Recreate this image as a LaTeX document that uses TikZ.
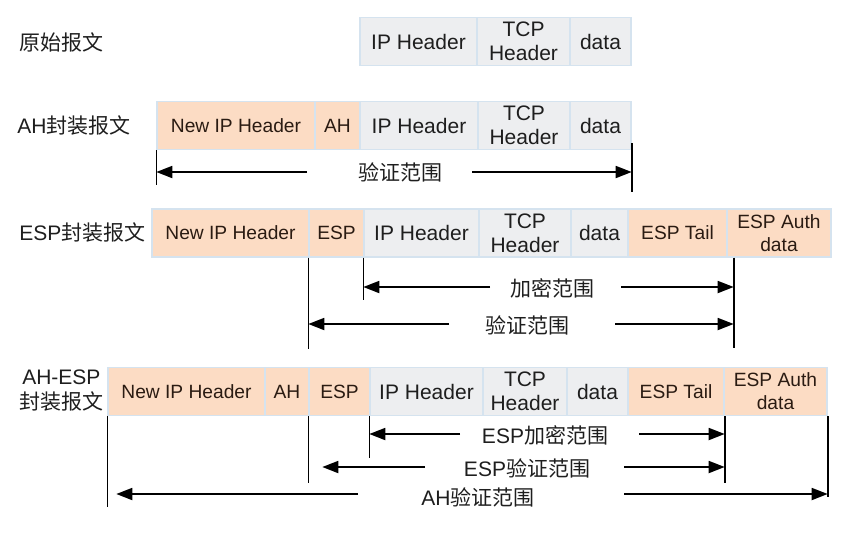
\documentclass[tikz,border=0pt]{standalone}
\usepackage{fontspec}
\setmainfont{Liberation Sans}
\newfontfamily\cjk{Noto Sans CJK SC}
\usetikzlibrary{arrows.meta,positioning}
\definecolor{hdrgrey}{HTML}{EDEEF0}
\definecolor{hdrorange}{HTML}{FCDCC4}
\definecolor{cellline}{HTML}{D5E3EF}
\definecolor{txtdark}{HTML}{1E1E1E}
\definecolor{txtbrown}{HTML}{2A1B12}
\tikzset{
  cell/.style={draw=cellline, line width=0.7pt, fill=hdrgrey, align=center,
    inner sep=0pt, minimum height=24pt, text=txtdark,
    font=\fontsize{10.5}{12}\selectfont},
  newcell/.style={cell, fill=hdrorange, text=txtbrown,
    font=\fontsize{9.6}{11.5}\selectfont},
  rowlabel/.style={anchor=west, inner sep=0pt, text=txtdark,
    font=\fontsize{10.5}{12.5}\selectfont},
  rangelabel/.style={inner sep=0pt, text=txtdark, font=\fontsize{10.5}{12}\selectfont},
  arr/.style={-{Triangle[length=8pt,width=6pt]}, line width=0.9pt},
  bound/.style={line width=0.8pt}
}
\begin{document}
\begin{tikzpicture}[x=0.5pt,y=-0.5pt]
  \useasboundingbox (0,0) rectangle (846,538);
  % row labels
  \node[rowlabel] (lo) at (19,42) {\cjk 原始报文};
  \node[rowlabel] (la) at (17,125) {AH{\cjk 封装报文}};
  \node[rowlabel] (le) at (19,232) {ESP{\cjk 封装报文}};
  \node[rowlabel, align=center] (lh) at (19,391) {AH-ESP\\{\cjk 封装报文}};
  % packet cells
  \foreach \n/\a/\b/\sty/\txt in {
    o1/360/477/cell/IP Header, o2/477/570/cell/TCP\\Header, o3/570/631/cell/data} {
    \node[\sty, minimum width={(\b-\a)*0.5pt}] (\n) at ({(\a+\b)/2},41.5) {\txt};
  }
  \foreach \n/\a/\b/\sty/\txt in {
    a1/157/315/newcell/New IP Header, a2/315/360/newcell/AH,
    a3/360/478/cell/IP Header, a4/478/570/cell/TCP\\Header, a5/570/631/cell/data} {
    \node[\sty, minimum width={(\b-\a)*0.5pt}] (\n) at ({(\a+\b)/2},125.5) {\txt};
  }
  \foreach \n/\a/\b/\sty/\txt in {
    e1/152/309/newcell/New IP Header, e2/309/364/newcell/ESP,
    e3/364/479/cell/IP Header, e4/479/571/cell/TCP\\Header, e5/571/628/cell/data,
    e6/628/727/newcell/ESP Tail, e7/727/831/newcell/ESP Auth\\data} {
    \node[\sty, minimum width={(\b-\a)*0.5pt}] (\n) at ({(\a+\b)/2},233) {\txt};
  }
  \foreach \n/\a/\b/\sty/\txt in {
    h1/108/265/newcell/New IP Header, h2/265/309/newcell/AH, h3/309/370/newcell/ESP,
    h4/370/483/cell/IP Header, h5/483/567/cell/TCP\\Header, h6/567/628/cell/data,
    h7/628/724/newcell/ESP Tail, h8/724/827/newcell/ESP Auth\\data} {
    \node[\sty, minimum width={(\b-\a)*0.5pt}] (\n) at ({(\a+\b)/2},391.5) {\txt};
  }
  % AH ranges
  \draw[bound] (a1.south west) -- ++(0,35);
  \draw[bound] ([yshift=3.5pt]a5.south east) -- ++(0,49);
  \node[rangelabel] (av) at (400,172) {\cjk 验证范围};
  \coordinate (avl) at (307,172);
  \coordinate (avr) at (472,172);
  \draw[arr] (avl) -- (avl -| a1.south west);
  \draw[arr] (avr) -- (avr -| a5.south east);
  % ESP ranges
  \coordinate (etick) at ([xshift=3pt]e6.south east);
  \draw[bound] (e3.south west) -- ++(0,42);
  \draw[bound] (e2.south west) -- ++(0,91);
  \draw[bound] (etick) -- ++(0,90);
  \node[rangelabel] (ee) at (552,288) {\cjk 加密范围};
  \coordinate (eel) at (490,287);
  \coordinate (eer) at (621,287);
  \draw[arr] (eel) -- (eel -| e3.south west);
  \draw[arr] (eer) -- (eer -| etick);
  \node[rangelabel] (ev) at (527,325) {\cjk 验证范围};
  \coordinate (evl) at (449,324);
  \coordinate (evr) at (615,324);
  \draw[arr] (evl) -- (evl -| e2.south west);
  \draw[arr] (evr) -- (evr -| etick);
  % AH-ESP ranges
  \draw[bound] (h4.south west) -- ++(0,42);
  \draw[bound] (h3.south west) -- ++(0,67);
  \draw[bound] (h7.south east) -- ++(0,67);
  \draw[bound] (h1.south west) -- ++(0,91);
  \draw[bound] (h8.south east) -- ++(0,81);
  \node[rangelabel] (he) at (545,435) {ESP{\cjk 加密范围}};
  \coordinate (hel) at (460,434);
  \coordinate (her) at (639,434);
  \draw[arr] (hel) -- (hel -| h4.south west);
  \draw[arr] (her) -- (her -| h7.south east);
  \node[rangelabel] (hv) at (527,468) {ESP{\cjk 验证范围}};
  \coordinate (hvl) at (425,467);
  \coordinate (hvr) at (624,467);
  \draw[arr, shorten >=7pt] (hvl) -- (hvl -| h3.south west);
  \draw[arr] (hvr) -- (hvr -| h7.south east);
  \node[rangelabel] (ha) at (478,497) {AH{\cjk 验证范围}};
  \coordinate (hal) at (358,494);
  \coordinate (har) at (624,494);
  \draw[arr, shorten >=4.5pt] (hal) -- (hal -| h1.south west);
  \draw[arr] (har) -- (har -| h8.south east);
\end{tikzpicture}
\end{document}
